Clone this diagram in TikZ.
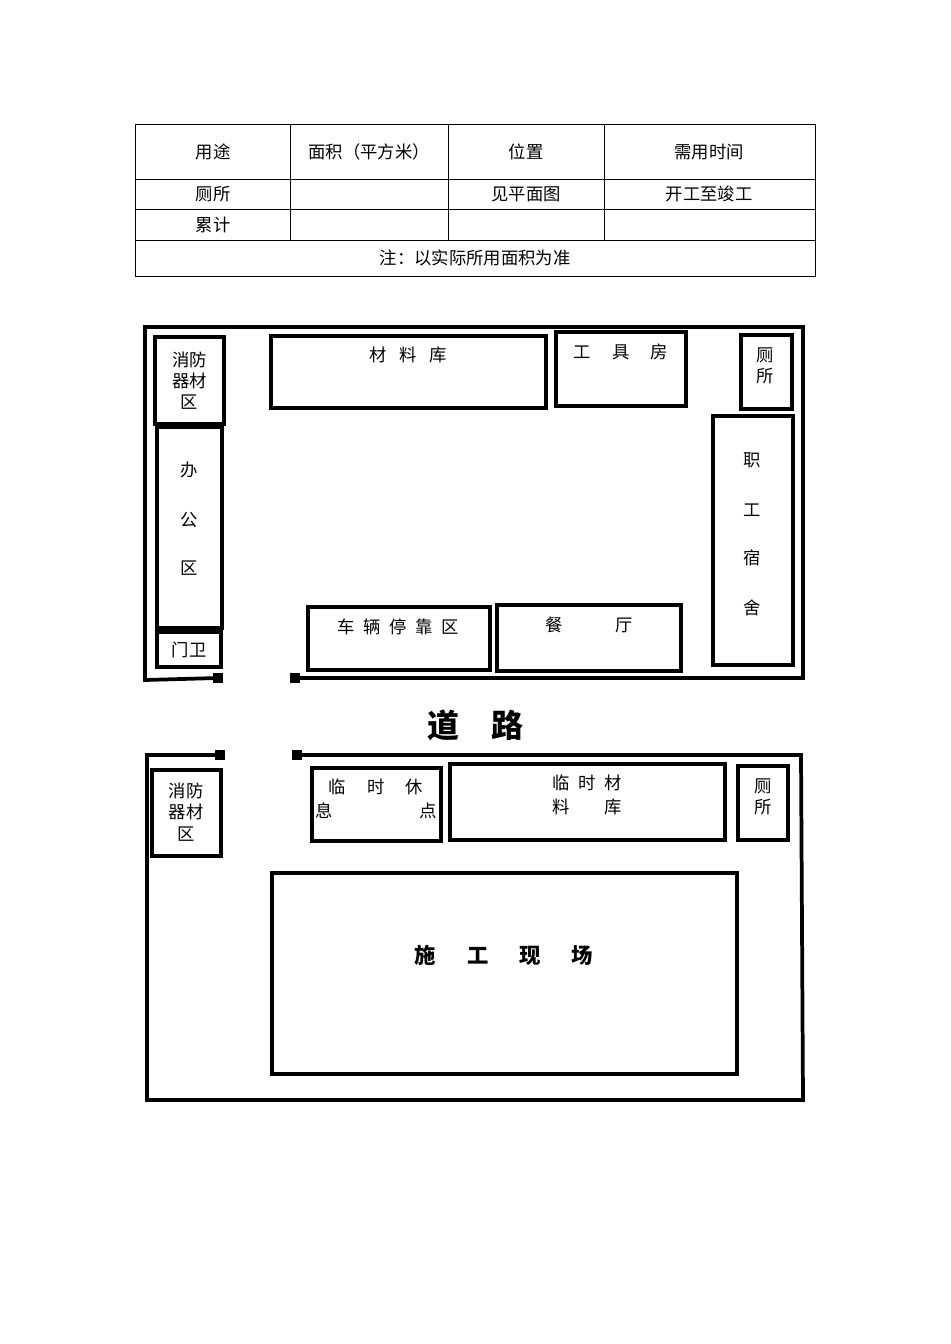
\documentclass[tikz,border=0pt]{standalone}
\usepackage{fontspec}
\setmainfont{Noto Sans CJK SC}
\begin{document}
\begin{tikzpicture}[x=0.75pt,y=-0.75pt,
  wall/.style={line width=2.8pt},
  room/.style={draw,line width=2.5pt},
  lbl/.style={font=\fontsize{13}{16}\selectfont,align=center,inner sep=0pt},
  sq/.style={fill=black,minimum size=7pt,inner sep=0pt},
  cell/.style={font=\fontsize{13}{16}\selectfont,inner sep=0pt}]
\useasboundingbox (0,0) rectangle (950,1344);
% table
\draw[line width=0.6pt] (135,124) rectangle (815,276);
\foreach \y in {179,209,240} \draw[line width=0.6pt] (135,\y) -- (815,\y);
\foreach \x in {290,448,604} \draw[line width=0.6pt] (\x,124) -- (\x,240);
\node[cell] (t1) at (213,152) {用途};
\node[cell] (t2) at (369,152) {面积（平方米）};
\node[cell] (t3) at (526,152) {位置};
\node[cell] (t4) at (709,152) {需用时间};
\node[cell] (t5) at (213,194) {厕所};
\node[cell] (t6) at (526,194) {见平面图};
\node[cell] (t7) at (709,194) {开工至竣工};
\node[cell] (t8) at (213,225) {累计};
\node[cell] (t9) at (475,258) {注：以实际所用面积为准};
% top site walls
\node[sq] (s1) at (218,678) {};
\node[sq] (s2) at (295,678) {};
\draw[wall] (s1.center) -- (145,680) -- (145,327) -- (803,327) -- (803,678) -- (s2.center);
\draw[room] (155,337) rectangle (224,424);
\node[lbl] (xf1) at (189.5,380.5) {消防\\器材\\区};
\draw[room] (157,427) rectangle (222,628);
\node[lbl] (bg) at (189.5,470) {办};
\node[lbl] at (189.5,520) {公};
\node[lbl] at (189.5,568) {区};
\draw[room] (157,632) rectangle (221,667);
\node[lbl] (mw) at (189,650) {门卫};
\draw[room] (271,336) rectangle (546,408);
\node[lbl] (cl) at (408,355) {材\enspace\ 料\enspace\ 库};
\draw[room] (556,332) rectangle (686,406);
\node[lbl] (gj) at (621,352) {工\quad\ 具\quad\ 房};
\draw[room] (741,335) rectangle (792,409);
\node[lbl] (cs1) at (765,366) {厕\\所};
\draw[room] (713,416) rectangle (793,665);
\node[lbl] (zg) at (752,460) {职};
\node[lbl] at (752,510) {工};
\node[lbl] at (752,558) {宿};
\node[lbl] at (752,608) {舍};
\draw[room] (308,607) rectangle (490,670);
\node[lbl] (cl2) at (398,627) {车\enspace 辆\enspace 停\enspace 靠\enspace 区};
\draw[room] (497,605) rectangle (681,671);
\node[lbl] (ct) at (589,625) {餐\qquad\quad 厅};
\node[font=\fontsize{24}{28}\selectfont\bfseries,inner sep=0pt] (road) at (475,725) {道\quad 路};
% bottom site
\node[sq] (s3) at (220,755) {};
\node[sq] (s4) at (297,755) {};
\draw[wall] (s3.center) -- (147,755) -- (147,1100) -- (803,1100) -- (801,755) -- (s4.center);
\draw[room] (152,770) rectangle (221,856);
\node[lbl] (xf2) at (186,812) {消防\\器材\\区};
\draw[room] (312,768) rectangle (441,841);
\node[lbl] (ls1) at (376,787) {临\quad\ 时\quad\ 休};
\node[lbl] (ls2) at (376,811) {息\qquad\qquad\quad 点};
\draw[room] (450,764) rectangle (725,840);
\node[lbl] (lc1) at (587,783) {临\enspace 时\enspace 材};
\node[lbl] (lc2) at (587,807) {料\qquad 库};
\draw[room] (738,766) rectangle (788,840);
\node[lbl] (cs2) at (763,797) {厕\\所};
\draw[room] (272,873) rectangle (737,1074);
\node[lbl,font=\fontsize{16}{20}\selectfont\bfseries] (sg) at (504,955) {施\quad\ \ 工\quad\ \ 现\quad\ \ 场};
\end{tikzpicture}
\end{document}
